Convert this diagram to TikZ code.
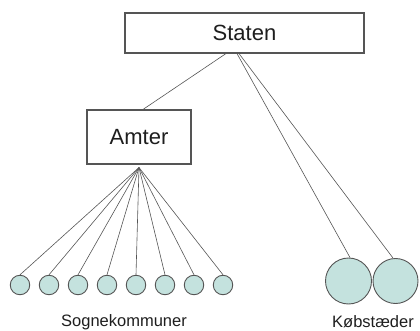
\documentclass[tikz,border=0pt]{standalone}
\usepackage{fontspec}
\setmainfont{Liberation Sans}
\usetikzlibrary{positioning}
\definecolor{cellfill}{RGB}{196,226,222}
\definecolor{rim}{RGB}{85,85,85}
\definecolor{ink}{RGB}{30,30,30}
\begin{document}
\begin{tikzpicture}[x=1pt,y=-1pt,
	box/.style={draw=rim, line width=1.1pt, text=ink, font=\fontsize{22}{24}\selectfont},
	cell/.style={circle, draw=rim, line width=0.9pt, fill=cellfill, inner sep=0pt},
	link/.style={draw=rim, line width=0.6pt},
	caption/.style={text=ink, font=\fontsize{16.5}{18}\selectfont}]
	\useasboundingbox (0,0) rectangle (420,331);
	\node (staten) [box, minimum width=239, minimum height=40] at (244.5,33) {Staten};
	\node (amter) [box, minimum width=104, minimum height=54] at (139,137) {Amter};
	\coordinate (apex) at ([yshift=-3pt]amter.south);
	% sognekommuner
	\foreach \i in {0,...,7}
		\node (sogn\i) [cell, minimum size=19.5] at (20+29*\i,285) {};
	% koebstaeder
	\node (kob1) [cell, minimum size=46] at (348.5,281) {};
	\node (kob2) [cell, minimum size=45] at (395.5,281) {};
	\node (sognlabel) [caption] at (124,322) {Sognekommuner};
	\node (koblabel) [caption] at (373,322) {Købstæder};
	\path[link] ([xshift=-18.5pt]staten.south) edge ([xshift=4pt]amter.north)
		([xshift=-7.5pt]staten.south) edge ([xshift=1.5pt]kob1.north)
		([xshift=-5.5pt]staten.south) edge ([xshift=-2.5pt]kob2.north);
	\foreach \i in {0,...,7}
		\draw[link] (apex) -- (sogn\i.north);
\end{tikzpicture}
\end{document}
